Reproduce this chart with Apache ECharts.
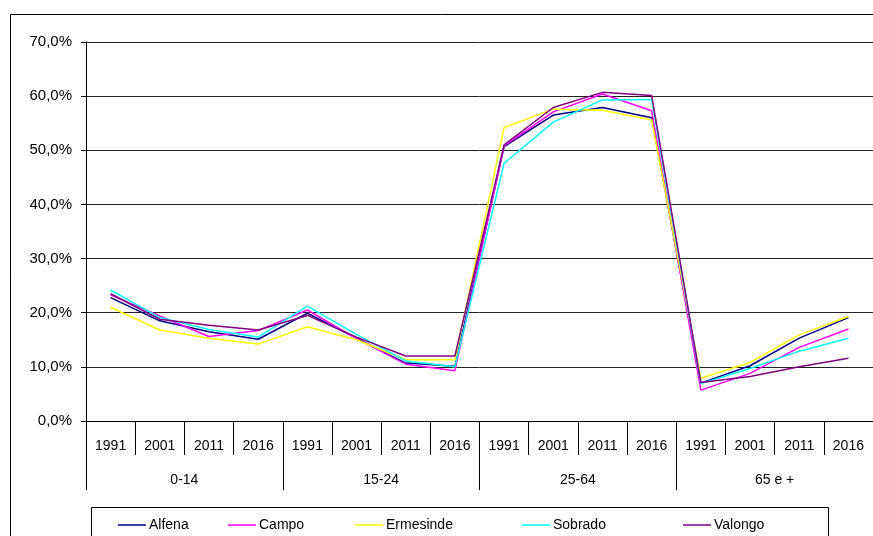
<!DOCTYPE html>
<html>
<head>
<meta charset="utf-8">
<script src="https://cdn.jsdelivr.net/npm/echarts@6/dist/echarts.min.js"></script>
<style>
  html, body { margin: 0; padding: 0; background: #fff; }
  #chart { width: 873px; height: 536px; }
</style>
</head>
<body>
<div id="chart"></div>
<script>
// anos dentro de cada grupo etário
const years = ['1991', '2001', '2011', '2016']
const groups = ['0-14', '15-24', '25-64', '65 e +']
const categories = groups.flatMap(g => years.map(y => y + '|' + g))

// percentagens (%) por freguesia
const alfena = [22.8, 18.5, 16.5, 15.1, 19.9, 15.3, 10.7, 10.1, 50.7, 56.5, 57.9, 56.0, 7.0, 10.2, 15.3, 19.1]
const campo = [23.3, 19.4, 15.6, 16.7, 20.5, 15.2, 10.5, 9.3, 50.8, 57.1, 60.4, 57.3, 5.7, 8.8, 13.6, 17.0]
const ermesinde = [21.0, 16.8, 15.3, 14.2, 17.4, 15.0, 11.3, 11.3, 54.2, 57.6, 57.4, 55.6, 7.9, 10.8, 15.9, 19.3]
const sobrado = [24.2, 19.1, 16.9, 15.5, 21.2, 16.0, 11.1, 10.0, 47.6, 55.2, 59.3, 59.4, 6.9, 9.7, 12.9, 15.3]
const valongo = [23.5, 18.8, 17.7, 16.8, 19.5, 15.5, 12.0, 12.0, 51.0, 57.9, 60.7, 60.1, 7.1, 8.2, 10.0, 11.6]

const seriesList = [
  { name: 'Alfena', data: alfena, color: '#000080' },
  { name: 'Campo', data: campo, color: '#FF00FF' },
  { name: 'Ermesinde', data: ermesinde, color: '#FFFF00' },
  { name: 'Sobrado', data: sobrado, color: '#00FFFF' },
  { name: 'Valongo', data: valongo, color: '#800080' }
]

const font = 'Liberation Sans, Arial, sans-serif'
const fs = 14
const legendLeft = [118, 228, 355, 522, 683]

const chart = echarts.init(document.getElementById('chart'))

chart.setOption({
  animation: false,
  textStyle: { fontFamily: font, color: '#000' },
  grid: { left: 86, top: 42, width: 790, height: 379 },
  xAxis: [
    {
      type: 'category',
      data: categories,
      boundaryGap: true,
      axisLine: { show: true, lineStyle: { color: '#000', width: 1 } },
      axisTick: { show: true, interval: 0, length: 34, lineStyle: { color: '#000' } },
      axisLabel: {
        interval: 0, margin: 18, color: '#000', fontSize: fs, fontFamily: font,
        formatter: v => v.split('|')[0]
      },
      splitLine: { show: false }
    },
    {
      type: 'category',
      data: groups,
      position: 'bottom',
      offset: 34,
      boundaryGap: true,
      axisLine: { show: false },
      axisTick: { show: true, interval: 0, length: 35, lineStyle: { color: '#000' } },
      axisLabel: { interval: 0, margin: 18, color: '#000', fontSize: fs, fontFamily: font },
      splitLine: { show: false }
    }
  ],
  yAxis: {
    type: 'value',
    min: 0,
    max: 70,
    interval: 10,
    axisLine: { show: true, lineStyle: { color: '#000' } },
    axisTick: { show: true, length: 5, lineStyle: { color: '#000' } },
    axisLabel: {
      margin: 14, color: '#000', fontSize: 15, fontFamily: font,
      formatter: v => v.toFixed(1).replace('.', ',') + '%'
    },
    splitLine: { show: true, lineStyle: { color: '#222', width: 1 } }
  },
  legend: seriesList.map((s, i) => ({
    data: [s.name],
    left: legendLeft[i],
    top: 518,
    padding: 0,
    icon: 'rect',
    itemWidth: 28,
    itemHeight: 1.5,
    textStyle: { fontSize: fs, fontFamily: font, color: '#000', padding: [0, 0, 0, -2] },
    selectedMode: false
  })),
  graphic: [
    {
      type: 'rect',
      shape: { x: 10.5, y: 14.5, width: 880, height: 560 },
      style: { fill: 'none', stroke: '#000', lineWidth: 1 },
      silent: true
    },
    {
      type: 'rect',
      shape: { x: 91.5, y: 507.5, width: 737, height: 40 },
      style: { fill: 'none', stroke: '#000', lineWidth: 1 },
      silent: true
    }
  ],
  series: seriesList.map(s => ({
    name: s.name,
    type: 'line',
    xAxisIndex: 0,
    data: s.data,
    symbol: 'none',
    color: s.color,
    lineStyle: { width: 1.5, color: s.color },
    itemStyle: { color: s.color }
  }))
})
</script>
</body>
</html>
